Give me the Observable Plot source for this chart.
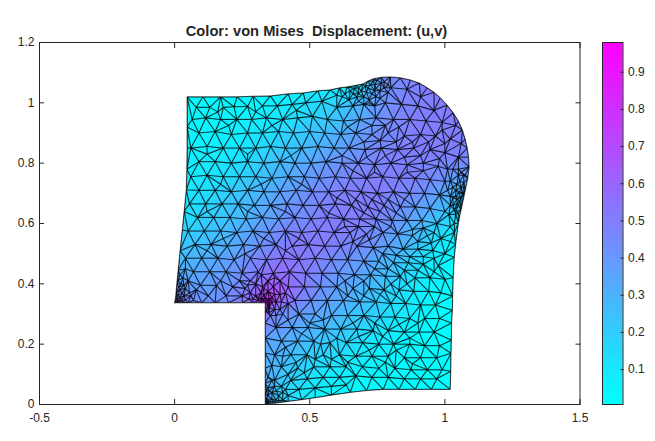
<!DOCTYPE html>
<html><head><meta charset="utf-8">
<script src="https://cdn.jsdelivr.net/npm/d3@7"></script>
<script src="https://cdn.jsdelivr.net/npm/@observablehq/plot@0.6"></script>
<style>
html,body{margin:0;padding:0;background:#fff;overflow:hidden}
#wrap{position:relative;width:655px;height:441px;font-family:"Liberation Sans",Arial,sans-serif}
#wrap svg{position:absolute;left:0;top:0;background:transparent}
#title{position:absolute;left:39px;width:555px;top:23px;text-align:center;font:bold 14.67px "Liberation Sans",Arial,sans-serif;color:#262626;white-space:pre}
</style></head><body>
<div id="wrap"><div id="title">Color: von Mises  Displacement: (u,v)</div></div>
<script>
const xTicks=[-0.5,0,0.5,1,1.5];
const yTicks=[0,0.2,0.4,0.6,0.8,1,1.2];
const barTicks=[0.1,0.2,0.3,0.4,0.5,0.6,0.7,0.8,0.9];
const colorDomain=[0.006,0.98];
// each node: [x, y, von Mises]
const notchEdge=[[0,.337,.6],[.05,.337,.45],[.1,.337,.42],[.15,.337,.42],[.2,.337,.45],[.25,.337,.5],[.29,.337,.6],[.32,.337,.78],[.335,.337,.97]];
const wallEdge=[[.335,.31,.65],[.335,.27,.48],[.335,.22,.35],[.335,.17,.32],[.335,.12,.3],[.335,.07,.33],[.335,.035,.42],[.335,0,.6]];
const bottomEdge=[[.345,.001,.45],[.355,.003,.35],[.37,.004,.26],[.42,.01,.15],[.47,.016,.09],[.52,.022,.06],[.58,.031,.04],[.65,.04,.03],[.71,.046,.02],[.772,.05,.02],[.83,.05,.01],[.89,.05,.01],[.95,.05,.01],[1.02,.05,.01]];
const rightEdge=[[1.022,.11,.01],[1.023,.17,.01],[1.024,.213,.01],[1.025,.27,.01],[1.028,.312,.01],[1.029,.36,.01],[1.031,.42,.02],[1.035,.488,.03],[1.04,.53,.04],[1.05,.601,.1],[1.06,.645,.17],[1.076,.711,.3],[1.085,.75,.38],[1.09,.787,.43]];
const arcEdge=[[1.088,.82,.45],[1.083,.85,.46],[1.075,.88,.47],[1.065,.91,.48],[1.05,.94,.49],[1.031,.967,.5],[1.008,.993,.5],[.983,1.017,.5],[.96,1.035,.5],[.935,1.05,.5],[.905,1.066,.49],[.872,1.076,.48],[.835,1.083,.47],[.798,1.086,.46],[.765,1.085,.42],[.735,1.08,.3]];
const topEdge=[[.715,1.072,.2],[.698,1.063,.16],[.67,1.058,.14],[.639,1.053,.12],[.61,1.05,.1],[.576,1.043,.1],[.53,1.04,.08],[.476,1.033,.07],[.42,1.03,.06],[.354,1.023,.04],[.29,1.022,.03],[.231,1.02,.03],[.17,1.02,.03],[.105,1.02,.03],[.046,1.02,.03]];
const leftEdge=[[.046,.92,.04],[.046,.85,.05],[.045,.78,.06],[.043,.711,.09],[.035,.64,.12],[.028,.578,.17],[.02,.51,.24],[.013,.445,.3],[.008,.4,.38],[.004,.36,.45]];
const row103=[[.62,1.02,.16],[.68,1.03,.22],[.74,1.04,.34],[.80,1.05,.44],[.86,1.045,.47],[.91,1.02,.49]];
const row098=[[.08,.985,.03],[.13,.985,.03],[.18,.985,.03],[.22,.987,.03],[.27,.988,.04],[.325,.99,.05],[.38,.99,.07],[.435,.995,.09],[.485,1,.12],[.545,1.005,.15],[.6,.985,.2],[.66,.99,.27],[.72,1,.36],[.78,1,.43],[.84,.995,.47],[.9,.99,.49],[.96,.975,.5]];
const row094=[[.065,.945,.03],[.115,.95,.03],[.17,.945,.04],[.23,.945,.05],[.285,.945,.06],[.34,.95,.08],[.4,.945,.11],[.455,.95,.14],[.51,.955,.17],[.565,.945,.21],[.625,.94,.26],[.685,.945,.33],[.745,.95,.41],[.81,.945,.46],[.87,.945,.49],[.93,.94,.5],[.99,.935,.5],[1.04,.925,.49]];
const row090=[[.09,.9,.04],[.15,.905,.05],[.21,.895,.07],[.27,.9,.09],[.325,.9,.11],[.385,.905,.15],[.44,.9,.19],[.5,.905,.22],[.555,.9,.26],[.615,.895,.31],[.67,.9,.37],[.73,.895,.42],[.79,.9,.46],[.85,.89,.48],[.91,.895,.5],[.965,.89,.5],[1.02,.88,.5],[1.06,.865,.49]];
const row085=[[.06,.85,.05],[.12,.855,.06],[.18,.85,.08],[.24,.85,.1],[.3,.85,.13],[.355,.855,.17],[.41,.85,.21],[.47,.85,.26],[.53,.855,.3],[.59,.85,.34],[.645,.85,.38],[.705,.845,.43],[.765,.85,.46],[.825,.845,.48],[.885,.85,.5],[.945,.845,.5],[1,.835,.5],[1.05,.82,.48]];
const row080=[[.09,.805,.07],[.15,.805,.09],[.21,.8,.12],[.27,.805,.16],[.33,.8,.21],[.39,.805,.26],[.445,.8,.3],[.505,.8,.35],[.56,.805,.39],[.62,.8,.42],[.68,.8,.45],[.74,.795,.47],[.8,.8,.49],[.86,.795,.49],[.92,.8,.48],[.975,.79,.46],[1.03,.78,.43],[1.07,.76,.38]];
const row075=[[.06,.755,.08],[.12,.76,.1],[.18,.755,.12],[.24,.755,.17],[.3,.755,.22],[.36,.75,.27],[.42,.755,.32],[.48,.755,.37],[.535,.75,.42],[.595,.755,.45],[.65,.75,.47],[.71,.75,.49],[.77,.755,.5],[.83,.75,.49],[.89,.75,.48],[.945,.745,.45],[1,.74,.41],[1.045,.73,.33]];
const row070=[[.09,.71,.12],[.15,.71,.15],[.21,.705,.2],[.27,.71,.25],[.33,.705,.3],[.39,.705,.35],[.45,.71,.39],[.51,.705,.44],[.57,.705,.47],[.63,.71,.49],[.69,.705,.5],[.75,.7,.5],[.81,.705,.48],[.87,.7,.45],[.925,.7,.41],[.98,.695,.35],[1.03,.685,.27]];
const row066=[[.055,.665,.12],[.115,.665,.16],[.175,.665,.2],[.235,.665,.25],[.295,.66,.3],[.355,.66,.35],[.415,.665,.4],[.475,.66,.44],[.535,.66,.47],[.595,.665,.5],[.655,.66,.5],[.715,.655,.5],[.775,.66,.48],[.835,.655,.43],[.89,.655,.38],[.945,.65,.32],[1,.64,.24],[1.04,.63,.17]];
const row062=[[.085,.62,.16],[.145,.62,.2],[.205,.62,.24],[.265,.615,.29],[.325,.62,.34],[.385,.615,.39],[.445,.62,.44],[.505,.615,.47],[.565,.62,.5],[.625,.615,.5],[.685,.615,.5],[.745,.615,.47],[.805,.61,.43],[.86,.61,.37],[.915,.61,.3],[.97,.6,.21],[1.02,.59,.12]];
const row057=[[.05,.575,.18],[.11,.575,.22],[.17,.575,.26],[.23,.57,.31],[.29,.575,.37],[.35,.57,.42],[.41,.575,.47],[.47,.57,.49],[.53,.575,.5],[.59,.57,.5],[.65,.57,.49],[.71,.565,.46],[.77,.57,.41],[.825,.565,.35],[.88,.56,.28],[.935,.56,.19],[.985,.55,.1],[1.02,.54,.05]];
const row053=[[.075,.53,.24],[.135,.53,.27],[.195,.525,.31],[.255,.53,.36],[.315,.525,.41],[.375,.53,.47],[.435,.525,.51],[.495,.53,.51],[.555,.525,.5],[.615,.525,.48],[.675,.525,.45],[.735,.52,.41],[.79,.525,.35],[.845,.515,.29],[.9,.515,.21],[.955,.51,.1],[1,.5,.05]];
const row048=[[.04,.485,.28],[.1,.485,.31],[.16,.485,.34],[.22,.48,.39],[.28,.485,.45],[.34,.48,.5],[.4,.485,.54],[.46,.48,.52],[.52,.485,.49],[.58,.48,.45],[.64,.48,.41],[.7,.475,.37],[.755,.475,.31],[.81,.47,.26],[.865,.47,.18],[.92,.465,.11],[.975,.46,.05]];
const row044=[[.07,.44,.33],[.13,.44,.35],[.19,.44,.38],[.25,.435,.43],[.31,.44,.49],[.365,.435,.55],[.425,.44,.54],[.485,.435,.5],[.545,.435,.45],[.605,.435,.4],[.665,.43,.36],[.725,.43,.31],[.78,.425,.25],[.835,.425,.18],[.89,.42,.11],[.945,.42,.05],[1,.415,.02]];
const row039=[[.035,.395,.4],[.095,.395,.37],[.155,.395,.39],[.215,.39,.43],[.27,.395,.48],[.325,.39,.56],[.42,.39,.58],[.48,.39,.5],[.54,.39,.43],[.6,.39,.37],[.66,.385,.32],[.72,.385,.27],[.775,.38,.21],[.83,.38,.14],[.885,.375,.08],[.94,.375,.04],[.985,.37,.02]];
const row035=[[.06,.36,.45],[.125,.36,.4],[.19,.36,.43],[.25,.36,.5],[.445,.345,.5],[.505,.345,.43],[.565,.345,.37],[.625,.345,.32],[.685,.34,.27],[.745,.34,.21],[.8,.335,.15],[.855,.335,.1],[.91,.33,.05],[.965,.33,.02]];
const row030=[[.4,.3,.42],[.46,.3,.38],[.52,.3,.35],[.58,.295,.3],[.64,.295,.25],[.7,.295,.2],[.76,.29,.15],[.815,.29,.1],[.87,.285,.06],[.925,.285,.03],[.98,.285,.01]];
const row026=[[.375,.255,.4],[.435,.255,.35],[.495,.255,.3],[.555,.25,.26],[.615,.25,.22],[.675,.25,.17],[.735,.245,.12],[.79,.245,.08],[.85,.24,.04],[.905,.24,.02],[.96,.24,.01]];
const row021=[[.395,.21,.33],[.455,.21,.28],[.515,.21,.24],[.575,.205,.2],[.635,.205,.16],[.695,.205,.11],[.755,.2,.07],[.81,.2,.05],[.87,.2,.03],[.925,.195,.01],[.98,.195,.01]];
const row017=[[.37,.165,.32],[.43,.165,.26],[.49,.165,.2],[.55,.165,.16],[.61,.165,.12],[.67,.16,.09],[.73,.16,.06],[.79,.16,.04],[.85,.155,.02],[.91,.155,.01],[.97,.155,.01]];
const row012=[[.395,.125,.25],[.455,.12,.18],[.515,.125,.14],[.575,.125,.1],[.635,.125,.08],[.695,.125,.05],[.755,.12,.03],[.815,.12,.02],[.875,.115,.01],[.935,.115,.01],[.99,.115,.01]];
const row008=[[.37,.08,.27],[.43,.08,.18],[.49,.085,.11],[.55,.09,.08],[.61,.09,.06],[.67,.095,.04],[.73,.09,.03],[.79,.09,.02],[.85,.085,.01],[.91,.085,.01],[.97,.085,.01]];
const row004=[[.4,.04,.2],[.46,.05,.11],[.52,.055,.07],[.58,.06,.05],[.635,.065,.04]];
const clusterTop=[[.66,1.03,.18],[.69,1.04,.2],[.715,1.05,.24],[.74,1.06,.33],[.765,1.065,.4],[.7,1.02,.26],[.73,1.03,.3],[.76,1.04,.38],[.68,1.005,.27],[.72,1.01,.33],[.76,1.015,.4],[.725,1.06,.25],[.705,1.055,.2],[.75,1.075,.33],[.68,1.05,.16],[.65,1.04,.15],[.79,1.06,.43],[.79,1.035,.43],[.63,1.03,.14],[.6,1.025,.12],[.665,1.048,.14],[.675,1.02,.22],[.645,1.01,.2],[.71,1.035,.26],[.745,1.048,.35],[.735,1.072,.28],[.775,1.07,.42],[.775,1.05,.41],[.745,1.02,.37],[.7,.995,.3],[.74,.99,.38]];
const clusterRight=[[1.06,.72,.28],[1.065,.7,.26],[1.05,.7,.26],[1.045,.68,.24],[1.05,.66,.2],[1.03,.66,.22],[1.04,.71,.3],[1.055,.74,.33],[1.07,.735,.33],[1.03,.72,.33],[1.02,.66,.24],[1.035,.645,.18],[1.06,.685,.24],[1.075,.76,.38],[1.06,.77,.38],[1.07,.72,.3],[1.055,.705,.28],[1.045,.665,.2],[1.055,.675,.22],[1.04,.69,.27],[1.02,.69,.28],[1.01,.71,.33],[1.02,.74,.35],[1.05,.76,.37],[1.04,.64,.15],[1.015,.63,.18],[1.05,.635,.15],[1.07,.7,.27],[1.035,.6,.1],[1.035,.57,.08]];
const clusterNotch=[[.32,.35,.72],[.335,.352,.85],[.35,.35,.85],[.352,.337,.8],[.35,.32,.58],[.3,.36,.6],[.32,.37,.64],[.345,.375,.68],[.37,.365,.68],[.375,.34,.62],[.37,.315,.5],[.355,.295,.45],[.28,.37,.52],[.3,.4,.56],[.345,.41,.6],[.39,.41,.6],[.41,.37,.6],[.42,.335,.52],[.31,.345,.66],[.325,.345,.76],[.34,.345,.88],[.345,.34,.88],[.345,.33,.68],[.345,.315,.56],[.31,.355,.64],[.33,.362,.72],[.36,.34,.72],[.36,.355,.76],[.29,.35,.58],[.275,.35,.52],[.33,.385,.62],[.365,.39,.64],[.39,.365,.65],[.395,.34,.58],[.39,.315,.48],[.375,.295,.43],[.26,.385,.48],[.28,.41,.5],[.32,.43,.53],[.37,.42,.56],[.35,.305,.5]];
const clusterLeft=[[.015,.339,.55],[.03,.339,.48],[.008,.35,.55],[.02,.355,.5],[.035,.36,.45],[.006,.37,.42],[.018,.38,.42],[.04,.385,.41],[.012,.41,.37],[.03,.42,.35],[.05,.41,.38],[.055,.37,.43],[.01,.342,.56],[.025,.347,.52],[.04,.347,.47],[.012,.36,.5],[.028,.37,.44],[.015,.39,.4],[.025,.4,.38],[.07,.345,.43],[.08,.38,.4],[.02,.43,.33],[.04,.45,.31]];
const clusterFoot=[[.345,.01,.4],[.36,.018,.3],[.345,.03,.36],[.375,.015,.22],[.36,.04,.27],[.385,.03,.2],[.345,.055,.3],[.37,.06,.25],[.395,.06,.2],[.42,.03,.15],[.34,.004,.5],[.34,.018,.42],[.35,.01,.35],[.365,.01,.26],[.385,.012,.18],[.35,.045,.31],[.34,.045,.35],[.375,.045,.22],[.36,.08,.27],[.345,.09,.3],[.41,.05,.17],[.4,.015,.16]];
const extraUpper=[[.73,.925,.4],[.78,.925,.44],[.83,.92,.47],[.64,.92,.3],[.7,.87,.4],[.76,.875,.45],[.82,.87,.47],[.88,.87,.49],[.94,.87,.5],[.99,.91,.5],[1,.865,.5],[.62,.825,.4],[.71,.82,.45],[.78,.825,.48],[.85,.82,.49],[.91,.825,.49],[.98,.815,.48],[1.05,.78,.42],[.66,.775,.46],[.74,.77,.49],[.86,.77,.49],[.92,.775,.47],[1.01,.78,.44]];
const extraRight=[[.88,.58,.29],[.92,.585,.25],[.96,.57,.15],[.9,.54,.24],[.95,.535,.14],[.87,.49,.2],[.92,.49,.12],[.96,.485,.08],[.82,.495,.28],[.77,.5,.33],[.79,.45,.27],[.85,.445,.16],[.9,.445,.1],[.96,.44,.03],[.74,.45,.32],[.8,.4,.2],[.86,.4,.11]];
const extraLower=[[.4,.16,.28],[.45,.14,.2],[.42,.1,.2],[.48,.105,.13],[.36,.13,.3],[.52,.15,.17],[.41,.19,.3],[.47,.235,.3],[.42,.28,.38],[.55,.28,.31],[.6,.22,.2],[.5,.27,.32],[.54,.2,.21],[.66,.27,.2],[.58,.15,.13]];
const extraMiddle=[[.6,.685,.49],[.67,.68,.5],[.73,.68,.5],[.79,.68,.47],[.85,.68,.44],[.57,.635,.49],[.7,.635,.5],[.76,.64,.47],[.82,.635,.42],[.63,.59,.5],[.68,.59,.49],[.74,.59,.45],[.8,.59,.4],[.66,.54,.46],[.72,.545,.43],[.64,.36,.31],[.7,.36,.26],[.76,.365,.2],[.82,.36,.13],[.7,.41,.3],[.63,.41,.37],[.74,.27,.14],[.83,.265,.07],[.68,.225,.14],[.77,.225,.08],[.87,.22,.03],[.72,.18,.07],[.82,.18,.03],[.9,.27,.03],[.64,.14,.08],[.78,.14,.03],[.88,.135,.01]];
const extraLeft=[[.16,.97,.03],[.3,.97,.05],[.45,.975,.1],[.2,.925,.05],[.36,.925,.1],[.12,.83,.07],[.27,.83,.12],[.43,.825,.24],[.17,.73,.14],[.32,.73,.27],[.47,.73,.37],[.12,.64,.18],[.27,.64,.28],[.41,.64,.42],[.18,.55,.28],[.33,.55,.41],[.46,.55,.5],[.12,.51,.28],[.26,.5,.4],[.41,.51,.51],[.17,.41,.39],[.24,.41,.44]];

const outline=[...notchEdge,...wallEdge,...bottomEdge,...rightEdge,...arcEdge,...topEdge,...leftEdge];
const nodes=[outline,row103,row098,row094,row090,row085,row080,row075,row070,row066,row062,row057,row053,row048,row044,row039,row035,row030,row026,row021,row017,row012,row008,row004,clusterTop,clusterRight,clusterNotch,clusterLeft,clusterFoot,extraUpper,extraRight,extraLower,extraMiddle,extraLeft].flat();

// triangulate the nodes and keep the triangles that lie inside the outline
const ring=outline.map(d=>[d[0],d[1]]);
const del=d3.Delaunay.from(nodes,d=>d[0],d=>d[1]);
const seen=new Set(), edges=[];
for(let i=0;i<del.triangles.length;i+=3){
  const t=[del.triangles[i],del.triangles[i+1],del.triangles[i+2]];
  const cx=(nodes[t[0]][0]+nodes[t[1]][0]+nodes[t[2]][0])/3, cy=(nodes[t[0]][1]+nodes[t[1]][1]+nodes[t[2]][1])/3;
  if(!d3.polygonContains(ring,[cx,cy])) continue;
  for(const [a,b] of [[t[0],t[1]],[t[1],t[2]],[t[2],t[0]]]){
    const k=a<b?a+"_"+b:b+"_"+a;
    if(seen.has(k)) continue;
    seen.add(k); edges.push([nodes[a],nodes[b]]);
  }
}
const xDomain=[-0.5,1.5], yDomain=[0,1.2];
// white mask: the frame traversed clockwise with the outline as a hole
const mask=[[xDomain[0],yDomain[0]],[xDomain[0],yDomain[1]],[xDomain[1],yDomain[1]],[xDomain[1],yDomain[0]],[xDomain[0],yDomain[0]],...outline,outline[0],[xDomain[0],yDomain[0]]];
const color={type:"linear",domain:colorDomain,range:["#00ffff","#ff00ff"],interpolate:"rgb"};
const ink="#262626";
const font="Liberation Sans, Arial, sans-serif";

const main=Plot.plot({
  width:655,height:441,marginLeft:39,marginRight:75.5,marginTop:42,marginBottom:37,
  style:{fontFamily:font,fontSize:"12px",background:"transparent",color:ink},
  x:{domain:xDomain},y:{domain:yDomain},color,
  marks:[
    Plot.raster(nodes,{x:d=>d[0],y:d=>d[1],fill:d=>d[2],interpolate:"barycentric",x1:xDomain[0],x2:xDomain[1],y1:yDomain[0],y2:yDomain[1],pixelSize:1}),
    Plot.link(edges,{x1:d=>d[0][0],y1:d=>d[0][1],x2:d=>d[1][0],y2:d=>d[1][1],stroke:"#000",strokeOpacity:0.78,strokeWidth:1.1}),
    Plot.line(mask,{x:d=>d[0],y:d=>d[1],fill:"white",stroke:"none"}),
    Plot.line([...outline,outline[0]],{x:d=>d[0],y:d=>d[1],stroke:"#000",strokeOpacity:0.6,strokeWidth:1}),
    Plot.axisX(xTicks,{anchor:"bottom",tickSize:-5,text:null,label:null,stroke:ink}),
    Plot.axisX(xTicks,{anchor:"top",tickSize:-5,text:null,label:null,stroke:ink}),
    Plot.axisY(yTicks,{anchor:"left",tickSize:-5,text:null,label:null,stroke:ink}),
    Plot.axisY(yTicks,{anchor:"right",tickSize:-5,text:null,label:null,stroke:ink}),
    Plot.axisX(xTicks,{anchor:"bottom",tickSize:0,tickPadding:9,label:null,tickFormat:d=>String(d),fill:ink,fontSize:12}),
    Plot.axisY(yTicks,{anchor:"left",tickSize:0,tickPadding:5,label:null,tickFormat:d=>String(d),fill:ink,fontSize:12}),
    Plot.frame({stroke:ink})
  ]
});
const levels=d3.range(256).map(i=>colorDomain[0]+(colorDomain[1]-colorDomain[0])*i/256);
const step=(colorDomain[1]-colorDomain[0])/256;
const bar=Plot.plot({
  width:655,height:441,marginLeft:602,marginRight:32.5,marginTop:42,marginBottom:37,
  style:{fontFamily:font,fontSize:"12px",background:"transparent",color:ink},
  x:{domain:[0,1],axis:null},y:{domain:colorDomain},color,
  marks:[
    Plot.rect(levels,{x1:0,x2:1,y1:d=>d,y2:d=>Math.min(d+step*2,colorDomain[1]),fill:d=>d}),
    Plot.axisY(barTicks,{anchor:"right",tickSize:-3,text:null,label:null,stroke:ink}),
    Plot.axisY(barTicks,{anchor:"right",tickSize:0,tickPadding:5,label:null,tickFormat:d=>String(d),fill:ink,fontSize:12}),
    Plot.frame({stroke:ink})
  ]
});
document.getElementById("wrap").append(main,bar);
</script>
</body></html>
